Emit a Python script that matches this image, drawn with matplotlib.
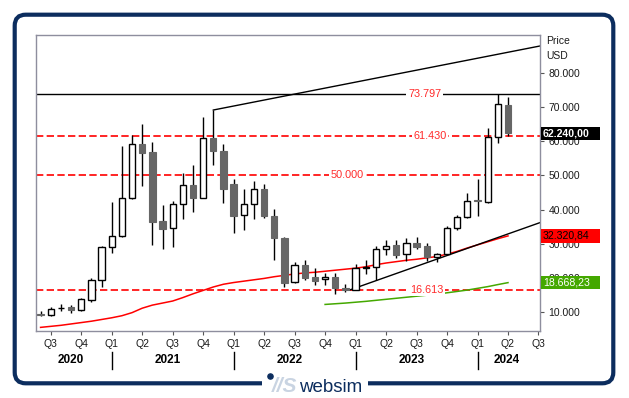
import numpy as np
import pandas as pd
import matplotlib
matplotlib.use('Agg')
import matplotlib.pyplot as plt
import matplotlib.transforms as mtransforms
from matplotlib.patches import FancyBboxPatch, Rectangle

"""monthly candles, price in thousand USD"""

months = pd.period_range('2020-06', '2024-04', freq='M')
axis_months = pd.period_range('2020-06', '2024-07', freq='M')

opens = [9.45, 9.1, 11.15, 11.55, 10.6, 13.6, 19.3, 29.0, 32.3, 43.3,
         59.1, 56.8, 36.7, 34.5, 41.5, 47.2, 43.5, 60.8, 57.2, 47.4,
         38.3, 41.5, 46.0, 38.2, 31.8, 18.8, 23.7, 20.4, 19.6, 20.2,
         17.2, 16.4, 22.9, 23.1, 28.4, 29.75, 26.9, 30.3, 29.4, 26.25,
         26.9, 34.5, 37.85, 42.7, 42.3, 61.3, 70.6]
highs = [10.4, 11.5, 12.3, 12.0, 14.2, 19.9, 29.4, 42.2, 58.6, 61.8,
         65.0, 59.7, 41.3, 42.5, 50.6, 53.0, 67.1, 69.1, 59.2, 48.9,
         46.1, 48.4, 47.6, 40.2, 32.0, 24.6, 25.3, 22.8, 21.4, 21.4,
         18.2, 24.1, 25.3, 29.4, 31.1, 31.0, 31.8, 31.9, 30.3, 27.4,
         35.3, 38.4, 44.8, 49.0, 63.9, 73.8, 73.0]
lows = [8.9, 8.9, 10.5, 9.8, 10.3, 12.9, 17.5, 27.4, 32.0, 43.0,
        47.0, 29.7, 28.5, 29.2, 37.2, 39.4, 43.3, 53.0, 42.0, 33.1,
        34.1, 37.2, 37.6, 25.3, 17.5, 18.5, 19.4, 18.0, 18.1, 15.4,
        16.0, 16.4, 21.3, 19.3, 26.8, 25.8, 25.0, 28.6, 25.1, 24.8,
        26.6, 34.0, 37.6, 38.2, 41.8, 59.4, 61.4]
closes = [9.1, 11.1, 11.4, 10.6, 13.8, 19.4, 29.0, 32.3, 43.3, 59.1,
          56.6, 36.5, 34.4, 41.5, 47.1, 43.5, 60.8, 57.2, 46.1, 38.2,
          41.5, 45.9, 38.2, 31.8, 18.7, 23.7, 20.1, 19.2, 20.3, 17.0,
          16.6, 23.0, 23.1, 28.4, 29.4, 26.8, 30.3, 29.2, 26.1, 27.0,
          34.5, 37.85, 42.4, 42.4, 61.3, 71.0, 62.24]

# red moving average, one value per candle
ma_red = [5.6, 5.9, 6.2, 6.6, 7.0, 7.4, 7.9, 8.4, 9.0, 9.9,
          11.2, 12.1, 12.7, 13.3, 14.3, 15.4, 16.4, 17.4, 18.2, 18.7,
          19.1, 19.5, 19.9, 20.4, 20.8, 21.2, 21.5, 21.7, 22.0, 22.3,
          22.6, 22.9, 23.3, 23.9, 24.4, 24.8, 25.2, 25.5, 25.9, 26.3,
          27.0, 27.8, 28.8, 29.7, 30.6, 31.5, 32.32084]
# green moving average, from Oct 2022 on
ma_green_start = '2022-10'
ma_green = [12.3, 12.5, 12.7, 12.95, 13.2, 13.5, 13.8, 14.1, 14.4, 14.7,
            15.0, 15.3, 15.7, 16.1, 16.5, 17.0, 17.5, 18.1, 18.66823]

# trend lines (month index, price)
trend_top_x = [17, 50]
trend_top_y = [69.1, 88.3]
trend_low_x = [30.4, 50]
trend_low_y = [16.5, 37.1]

high_level = 73.797
dashed_levels = [61.430, 50.000, 16.613]
level_label_x = {73.797: 37.8, 61.430: 38.3, 50.000: 30.2, 16.613: 38.0}

yticks = [10, 20, 30, 40, 50, 60, 70, 80]

NAVY = '#0c2d5e'
RED = '#ff0000'
GREEN = '#44a800'
GREY = '#666666'


def fmt_box(v):
    s = f"{v * 1000:,.2f}"
    return s.replace(',', '#').replace('.', ',').replace('#', '.')


plt.rcParams['font.family'] = ['Liberation Sans', 'DejaVu Sans']

fig = plt.figure(figsize=(6.29, 3.98), dpi=100)

# outer frame + logo
bg = fig.add_axes([0, 0, 1, 1], zorder=0)
bg.set_xlim(0, 629)
bg.set_ylim(398, 0)
bg.axis('off')
bg.add_patch(FancyBboxPatch((14.7, 14.7), 598.6, 368.6,
                            boxstyle='round,pad=0,rounding_size=11',
                            fc='white', ec=NAVY, lw=3))
bg.add_patch(Rectangle((262, 376), 106, 12, fc='white', ec='none', zorder=3))
bg.scatter([270], [375.5], s=14, color=NAVY, zorder=6)
bg.text(272, 392.5, '//S', style='italic', weight='heavy', fontsize=15,
        color='#c9d4e2', va='baseline', ha='left', zorder=4)
bg.text(299, 392.5, 'websim', fontsize=13.5, color=NAVY, va='baseline',
        ha='left', zorder=4)

ax = fig.add_axes([35.5 / 629, (398 - 331) / 398, (540 - 35.5) / 629,
                   (331 - 34.5) / 398], zorder=1)
ax.set_facecolor('white')

x = np.arange(len(months))
o = np.array(opens)
c = np.array(closes)
up = c >= o

ax.vlines(x, lows, highs, color='black', lw=1, zorder=3)
ax.bar(x[up], np.abs(c - o)[up], bottom=np.minimum(o, c)[up], width=0.62,
       fc='white', ec='black', lw=1, zorder=4)
ax.bar(x[~up], np.abs(c - o)[~up], bottom=np.minimum(o, c)[~up], width=0.62,
       fc=GREY, ec=GREY, lw=0.8, zorder=4)

ax.plot(x, ma_red, color=RED, lw=1.1, zorder=2)
g0 = list(months.astype(str)).index(ma_green_start)
ax.plot(np.arange(g0, g0 + len(ma_green)), ma_green, color=GREEN, lw=1.1, zorder=2)

ax.plot(trend_top_x, trend_top_y, color='black', lw=1, zorder=2)
ax.plot(trend_low_x, trend_low_y, color='black', lw=1, zorder=2)

ax.axhline(high_level, color='black', lw=1, zorder=1)
for lvl in dashed_levels:
    ax.axhline(lvl, color=RED, lw=1.2, dashes=(4.4, 2.0), zorder=1)
for lvl in [high_level] + dashed_levels:
    ax.text(level_label_x[lvl], lvl, f"{lvl:.3f}", color='#ff2a2a', fontsize=7.8,
            ha='center', va='center', zorder=5,
            bbox=dict(fc='white', ec='none', pad=1.2))

ax.set_xlim(-0.5, 49.15)
ax.set_ylim(4.54, 91.16)

# y axis on the right
ax.yaxis.tick_right()
ax.set_yticks(yticks)
ax.set_yticklabels([f"{v:.3f}" for v in yticks])
ax.tick_params(axis='y', direction='out', length=3, pad=3, labelsize=7.5,
               color='#555555', labelcolor='#1a1a1a')

# quarter ticks
qpos = [i for i, p in enumerate(axis_months) if p.month in (1, 4, 7, 10)]
ax.set_xticks(qpos)
ax.set_xticklabels(['Q%d' % ((axis_months[i].month - 1) // 3 + 1) for i in qpos])
ax.tick_params(axis='x', direction='out', length=3, pad=3, labelsize=7.5,
               color='#555555', labelcolor='#1a1a1a')

for s in ax.spines.values():
    s.set_color('#8e8e9e')
    s.set_linewidth(1)

# year labels and separators
trans = mtransforms.blended_transform_factory(ax.transData, ax.transAxes)
xmin, xmax = ax.get_xlim()
for yr in sorted(set(p.year for p in axis_months)):
    idx = [i for i, p in enumerate(axis_months) if p.year == yr]
    lo = max(idx[0] - 0.5, xmin)
    hi = min(idx[-1] + 0.5, xmax)
    ax.text((lo + hi) / 2, -0.098, str(yr), transform=trans, ha='center',
            va='center', fontsize=8.5, weight='bold')
    if axis_months[idx[0]].month == 1:
        ax.plot([idx[0], idx[0]], [-0.071, -0.128], transform=trans,
                color='black', lw=1, clip_on=False)

# value boxes at right
tb = mtransforms.blended_transform_factory(ax.transAxes, ax.transData)
for val, bcol, tcol, wt in [(closes[-1], 'black', 'white', 'bold'),
                            (ma_red[-1], RED, 'black', 'normal'),
                            (ma_green[-1], GREEN, 'white', 'normal')]:
    ax.add_patch(Rectangle((1.002, val - 1.95), 0.117, 3.9, transform=tb,
                           fc=bcol, ec='none', clip_on=False, zorder=6))
    ax.text(1.006, val, fmt_box(val), transform=tb, color=tcol, fontsize=7.6,
            weight=wt, ha='left', va='center', zorder=7, clip_on=False)

fig.text(546 / 629, 1 - 41 / 398, 'Price', fontsize=7.5, va='center', color='#1a1a1a')
fig.text(546 / 629, 1 - 56 / 398, 'USD', fontsize=7.5, va='center', color='#1a1a1a')

fig.savefig('out.png', dpi=100)
